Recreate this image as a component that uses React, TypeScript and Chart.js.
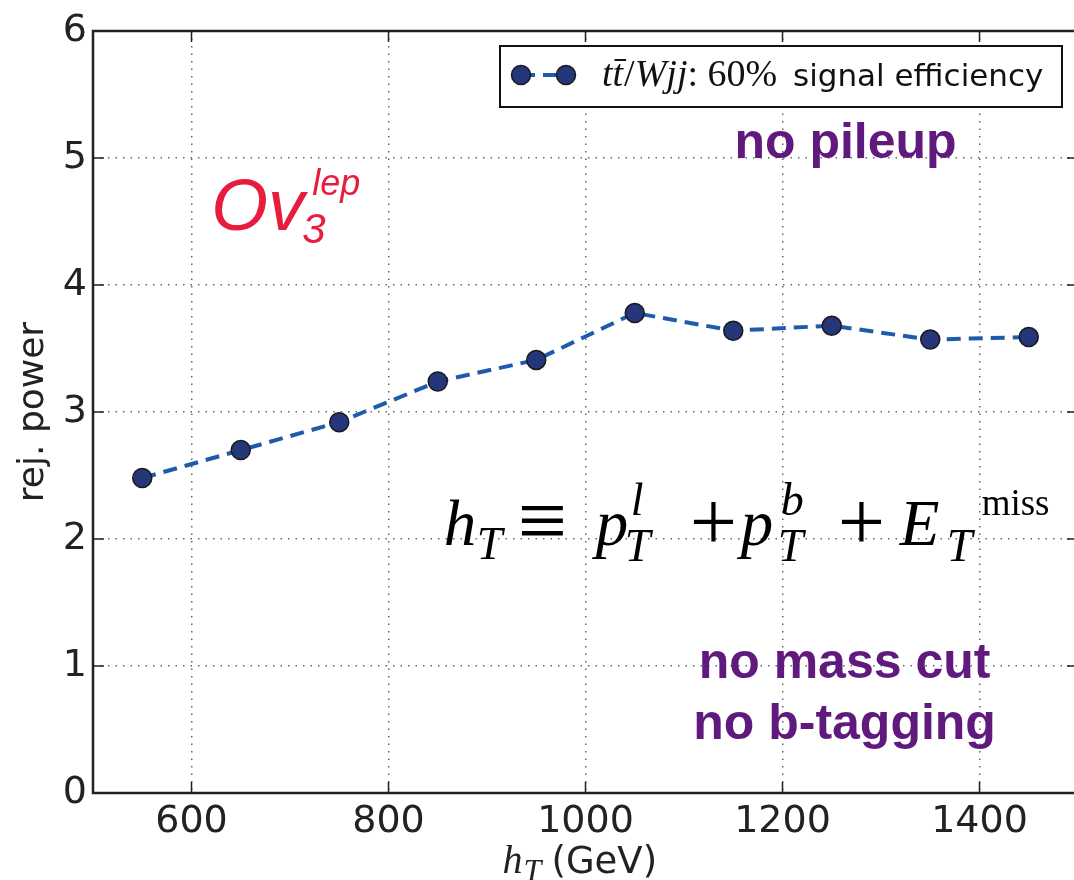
import React, { useEffect, useRef } from 'react';
import { Chart, registerables } from 'chart.js';

Chart.register(...registerables);

// ---- data ----
const hTValues = [550, 650, 750, 850, 950, 1050, 1150, 1250, 1350, 1450];
const rejPower = [2.48, 2.7, 2.92, 3.24, 3.41, 3.78, 3.64, 3.68, 3.57, 3.59];
const xTickValues = [600, 800, 1000, 1200, 1400];
const yTickValues = [0, 1, 2, 3, 4, 5, 6];
const xRange = [500, 1500];
const yRange = [0, 6];

const LINE_COLOR = '#1f5bab';
const MARKER_FILL = '#25377a';
const MARKER_EDGE = '#1a1a1a';
const PURPLE = '#601a7e';
const RED = '#e81d3d';
const SERIF = '"Liberation Serif", "DejaVu Serif", serif';
const SANS = '"DejaVu Sans", sans-serif';
const HELV = '"Liberation Sans", Arial, sans-serif';

type Piece = { t: string; dx: number; dy: number; size: number; italic?: boolean; family?: string };

function drawPieces(ctx: CanvasRenderingContext2D, x0: number, y0: number, pieces: Piece[], family: string) {
  for (const p of pieces) {
    ctx.font = `${p.italic ? 'italic ' : ''}${p.size}px ${p.family || family}`;
    ctx.fillText(p.t, x0 + p.dx, y0 + p.dy);
  }
}

const decorPlugin = {
  id: 'decor',
  afterDraw(chart: any) {
    const { ctx, chartArea } = chart;
    const xs = chart.scales.x;
    const ys = chart.scales.y;
    const { left, right, top, bottom } = chartArea;
    ctx.save();

    // inward tick marks
    ctx.strokeStyle = '#222';
    ctx.lineWidth = 1.5;
    ctx.beginPath();
    for (const v of xTickValues) {
      const px = xs.getPixelForValue(v);
      ctx.moveTo(px, bottom);
      ctx.lineTo(px, bottom - 11);
      ctx.moveTo(px, top);
      ctx.lineTo(px, top + 11);
    }
    for (const v of yTickValues) {
      const py = ys.getPixelForValue(v);
      ctx.moveTo(left, py);
      ctx.lineTo(left + 11, py);
      ctx.moveTo(right, py);
      ctx.lineTo(right - 11, py);
    }
    ctx.stroke();

    // frame
    ctx.strokeStyle = '#222';
    ctx.lineWidth = 2.5;
    ctx.strokeRect(left, top, right - left, bottom - top);

    ctx.textAlign = 'left';
    ctx.textBaseline = 'alphabetic';

    // Ov_3^lep
    {
      const ox = xs.getPixelForValue(620);
      const oy = ys.getPixelForValue(4.43);
      ctx.fillStyle = RED;
      drawPieces(ctx, ox, oy, [
        { t: 'Ov', dx: 0, dy: 0, size: 73, italic: true },
        { t: '3', dx: 91, dy: 13, size: 42, italic: true },
        { t: 'lep', dx: 101, dy: -35, size: 36, italic: true },
      ], HELV);
    }

    // purple notes
    ctx.fillStyle = PURPLE;
    ctx.textAlign = 'center';
    ctx.font = `bold 50px ${HELV}`;
    ctx.fillText('no pileup', xs.getPixelForValue(1264), ys.getPixelForValue(5.0));
    ctx.fillText('no mass cut', xs.getPixelForValue(1263), ys.getPixelForValue(0.906));
    ctx.fillText('no b-tagging', xs.getPixelForValue(1263), ys.getPixelForValue(0.425));
    ctx.textAlign = 'left';

    // formula h_T = p_T^l + p_T^b + E_T^miss
    {
      const fx = xs.getPixelForValue(856);
      const fy = ys.getPixelForValue(1.95);
      ctx.fillStyle = '#000';
      const M = 65;
      const S = 46;
      const O = 84;
      drawPieces(ctx, fx, fy, [
        { t: 'h', dx: 0, dy: 0, size: M, italic: true },
        { t: 'T', dx: 33, dy: 14, size: S, italic: true },
        { t: '\u2261', dx: 74, dy: 5, size: 88 },
        { t: 'p', dx: 152, dy: 0, size: M, italic: true },
        { t: 'l', dx: 187, dy: -30, size: S, italic: true },
        { t: 'T', dx: 181, dy: 16, size: S, italic: true },
        { t: '+', dx: 246, dy: 5, size: O },
        { t: 'p', dx: 297, dy: 0, size: M, italic: true },
        { t: 'b', dx: 337, dy: -30, size: S, italic: true },
        { t: 'T', dx: 334, dy: 16, size: S, italic: true },
        { t: '+', dx: 394, dy: 5, size: O },
        { t: 'E', dx: 456, dy: 0, size: M, italic: true },
        { t: 'T', dx: 503, dy: 16, size: S, italic: true },
        { t: 'miss', dx: 538, dy: -30, size: 37 },
      ], SERIF);
    }

    // legend
    {
      const bx = 500, by = 46, bw = 562, bh = 61;
      ctx.fillStyle = '#fff';
      ctx.fillRect(bx, by, bw, bh);
      ctx.strokeStyle = '#111';
      ctx.lineWidth = 2;
      ctx.strokeRect(bx, by, bw, bh);
      const my = by + 29;
      const m1 = bx + 21, m2 = bx + 66;
      ctx.strokeStyle = LINE_COLOR;
      ctx.lineWidth = 4;
      ctx.setLineDash([14, 8]);
      ctx.beginPath();
      ctx.moveTo(m1, my);
      ctx.lineTo(m2, my);
      ctx.stroke();
      ctx.setLineDash([]);
      for (const mx of [m1, m2]) {
        ctx.beginPath();
        ctx.arc(mx, my, 9.5, 0, Math.PI * 2);
        ctx.fillStyle = MARKER_FILL;
        ctx.fill();
        ctx.strokeStyle = MARKER_EDGE;
        ctx.lineWidth = 1.5;
        ctx.stroke();
      }
      const base = by + 40;
      let tx = bx + 102;
      ctx.fillStyle = '#111';
      const LS = 38;
      const seg = (t: string, italic: boolean, family = SERIF, size = LS) => {
        ctx.font = `${italic ? 'italic ' : ''}${size}px ${family}`;
        ctx.fillText(t, tx, base);
        const w = ctx.measureText(t).width;
        tx += w;
        return w;
      };
      seg('t', true);
      const tbX = tx;
      const w2 = seg('t', true);
      ctx.strokeStyle = '#111';
      ctx.lineWidth = 2;
      ctx.beginPath();
      ctx.moveTo(tbX + 2, base - 26);
      ctx.lineTo(tbX + w2 + 3, base - 26);
      ctx.stroke();
      tx += 1;
      seg('/', false);
      seg('W', true);
      seg('jj', true);
      seg(': 60%', false);
      ctx.font = `31px ${SANS}`;
      ctx.fillText('signal efficiency', bx + 293, base);
    }

    // x-axis title h_T(GeV)
    {
      const cx = (left + right) / 2;
      const x0 = cx - 83;
      const y0 = 873;
      ctx.fillStyle = '#222';
      drawPieces(ctx, x0, y0, [
        { t: 'h', dx: 0, dy: 0, size: 40, italic: true, family: SERIF },
        { t: 'T', dx: 21, dy: 8, size: 32, italic: true, family: SERIF },
        { t: '(GeV)', dx: 49, dy: 0, size: 37, family: SANS },
      ], SANS);
    }

    ctx.restore();
  },
};

export default function App() {
  const ref = useRef<HTMLCanvasElement | null>(null);

  useEffect(() => {
    document.body.style.margin = '0';
    document.body.style.background = '#fff';
    const canvas = ref.current;
    if (!canvas) return;
    const chart = new Chart(canvas, {
      type: 'line',
      data: {
        datasets: [
          {
            label: 'tt\u0304/Wjj: 60% signal efficiency',
            data: hTValues.map((x, i) => ({ x, y: rejPower[i] })),
            borderColor: LINE_COLOR,
            borderWidth: 4,
            borderDash: [14, 8],
            pointRadius: 9.5,
            pointBackgroundColor: MARKER_FILL,
            pointBorderColor: MARKER_EDGE,
            pointBorderWidth: 1.5,
            tension: 0,
            fill: false,
          },
        ],
      },
      options: {
        responsive: false,
        animation: false,
        devicePixelRatio: 1,
        layout: { padding: { top: 31, right: 12, left: 0, bottom: 0 } },
        plugins: { legend: { display: false }, tooltip: { enabled: false } },
        scales: {
          x: {
            type: 'linear',
            min: xRange[0],
            max: xRange[1],
            afterBuildTicks: (s: any) => {
              s.ticks = xTickValues.map((v) => ({ value: v }));
            },
            afterFit: (s: any) => {
              s.height = 87;
            },
            grid: { color: '#666', lineWidth: 1.5, drawTicks: false },
            border: { display: false, dash: [1.5, 6] },
            ticks: {
              font: { family: 'DejaVu Sans', size: 38 },
              color: '#222',
              padding: 6,
              maxRotation: 0,
              autoSkip: false,
              callback: (v: any) => String(v),
            },
          },
          y: {
            type: 'linear',
            min: yRange[0],
            max: yRange[1],
            afterBuildTicks: (s: any) => {
              s.ticks = yTickValues.map((v) => ({ value: v }));
            },
            afterFit: (s: any) => {
              s.width = 93;
            },
            grid: { color: '#666', lineWidth: 1.5, drawTicks: false },
            border: { display: false, dash: [1.5, 6] },
            ticks: {
              font: { family: 'DejaVu Sans', size: 38 },
              color: '#222',
              padding: 6,
              autoSkip: false,
              callback: (v: any) => String(v),
            },
            title: {
              display: true,
              text: 'rej. power',
              font: { family: 'DejaVu Sans', size: 36 },
              color: '#222',
              padding: { top: 12, bottom: 0 },
            },
          },
        },
      },
      plugins: [decorPlugin],
    });
    return () => chart.destroy();
  }, []);

  return (
    <div style={{ width: 1074, height: 880, overflow: 'hidden', background: '#fff' }}>
      <canvas ref={ref} width={1090} height={880} style={{ display: 'block', width: 1090, height: 880 }} />
    </div>
  );
}
